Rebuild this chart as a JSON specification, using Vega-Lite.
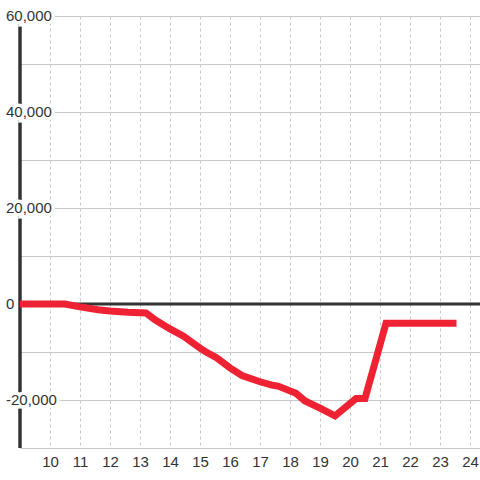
{
  "$schema": "https://vega.github.io/schema/vega-lite/v6.json",
  "width": 460,
  "height": 432,
  "autosize": "none",
  "padding": {"left": 20, "top": 16, "right": 0, "bottom": 32},
  "background": "#ffffff",
  "config": {
    "view": {"stroke": null},
    "font": "Liberation Sans",
    "axisX": {
      "grid": true, "gridDash": [3, 3], "gridColor": "#c8c8c8", "gridWidth": 1,
      "domain": false, "ticks": false, "title": null,
      "labelFontSize": 15, "labelColor": "#333333", "labelPadding": 6,
      "labelFont": "Liberation Sans", "labelOverlap": false, "labelFlush": false, "labelBound": false
    },
    "axisY": {
      "grid": true, "gridColor": "#c8c8c8", "gridWidth": 1,
      "domain": false, "ticks": false, "labels": false, "title": null
    }
  },
  "datasets": {
    "series": [
      {"x": 9, "y": 0},
      {"x": 10.5, "y": 0},
      {"x": 11, "y": -600},
      {"x": 11.6, "y": -1200},
      {"x": 12, "y": -1450},
      {"x": 12.6, "y": -1700},
      {"x": 13.2, "y": -1850},
      {"x": 13.5, "y": -3300},
      {"x": 14, "y": -5200},
      {"x": 14.45, "y": -6700},
      {"x": 15, "y": -9200},
      {"x": 15.2, "y": -10000},
      {"x": 15.55, "y": -11200},
      {"x": 16, "y": -13300},
      {"x": 16.4, "y": -14900},
      {"x": 17, "y": -16200},
      {"x": 17.4, "y": -16900},
      {"x": 17.6, "y": -17100},
      {"x": 18.2, "y": -18600},
      {"x": 18.5, "y": -20200},
      {"x": 19, "y": -21700},
      {"x": 19.5, "y": -23300},
      {"x": 20.2, "y": -19700},
      {"x": 20.5, "y": -19700},
      {"x": 21.2, "y": -4000},
      {"x": 23.55, "y": -4000}
    ],
    "ylabels": [
      {"v": 60000, "label": "60,000"},
      {"v": 40000, "label": "40,000"},
      {"v": 20000, "label": "20,000"},
      {"v": 0, "label": "0"},
      {"v": -20000, "label": "-20,000"}
    ],
    "axisline": [{"x": 9, "y1": -30000, "y2": 60000}],
    "zeroline": [{"x1": 9, "x2": 24.333, "y": 0}]
  },
  "layer": [
    {
      "data": {"name": "axisline"},
      "mark": {"type": "rule", "color": "#333333", "strokeWidth": 3.5},
      "encoding": {
        "x": {
          "field": "x", "type": "quantitative",
          "scale": {"domain": [9, 24.333], "nice": false, "zero": false},
          "axis": {"values": [10, 11, 12, 13, 14, 15, 16, 17, 18, 19, 20, 21, 22, 23, 24]}
        },
        "y": {
          "field": "y1", "type": "quantitative",
          "scale": {"domain": [-30000, 60000], "nice": false, "zero": false},
          "axis": {"values": [-30000, -20000, -10000, 0, 10000, 20000, 30000, 40000, 50000, 60000]}
        },
        "y2": {"field": "y2"}
      }
    },
    {
      "data": {"name": "zeroline"},
      "mark": {"type": "rule", "color": "#333333", "strokeWidth": 3},
      "encoding": {
        "x": {"field": "x1", "type": "quantitative", "axis": {"values": [10, 11, 12, 13, 14, 15, 16, 17, 18, 19, 20, 21, 22, 23, 24]}},
        "x2": {"field": "x2"},
        "y": {"field": "y", "type": "quantitative", "axis": {"values": [-30000, -20000, -10000, 0, 10000, 20000, 30000, 40000, 50000, 60000]}}
      }
    },
    {
      "data": {"name": "series"},
      "mark": {"type": "line", "color": "#ee2233", "strokeWidth": 7, "strokeJoin": "miter", "strokeCap": "butt"},
      "encoding": {
        "x": {"field": "x", "type": "quantitative", "axis": {"values": [10, 11, 12, 13, 14, 15, 16, 17, 18, 19, 20, 21, 22, 23, 24]}},
        "y": {"field": "y", "type": "quantitative", "axis": {"values": [-30000, -20000, -10000, 0, 10000, 20000, 30000, 40000, 50000, 60000]}}
      }
    },
    {
      "data": {"name": "ylabels"},
      "mark": {"type": "text", "align": "left", "baseline": "middle", "dx": -14, "fontSize": 15, "font": "Liberation Sans", "stroke": "#ffffff", "strokeWidth": 7, "fill": "#ffffff"},
      "encoding": {
        "x": {"datum": 9, "type": "quantitative", "axis": {"values": [10, 11, 12, 13, 14, 15, 16, 17, 18, 19, 20, 21, 22, 23, 24]}},
        "y": {"field": "v", "type": "quantitative", "axis": {"values": [-30000, -20000, -10000, 0, 10000, 20000, 30000, 40000, 50000, 60000]}},
        "text": {"field": "label"}
      }
    },
    {
      "data": {"name": "ylabels"},
      "mark": {"type": "text", "align": "left", "baseline": "middle", "dx": -14, "fontSize": 15, "font": "Liberation Sans", "fill": "#333333"},
      "encoding": {
        "x": {"datum": 9, "type": "quantitative", "axis": {"values": [10, 11, 12, 13, 14, 15, 16, 17, 18, 19, 20, 21, 22, 23, 24]}},
        "y": {"field": "v", "type": "quantitative", "axis": {"values": [-30000, -20000, -10000, 0, 10000, 20000, 30000, 40000, 50000, 60000]}},
        "text": {"field": "label"}
      }
    }
  ]
}
